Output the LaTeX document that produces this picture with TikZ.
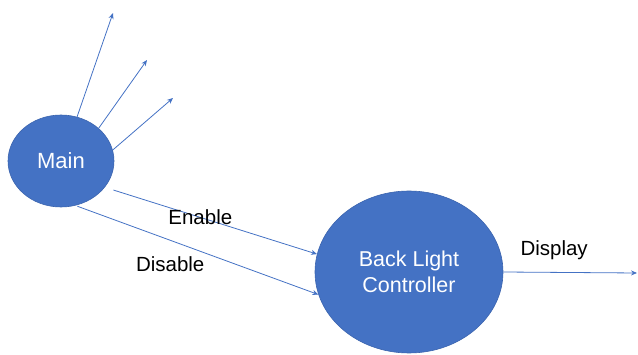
\documentclass[tikz,border=0pt]{standalone}
\usepackage{fontspec}
\setmainfont{Liberation Sans}
\usepackage{xcolor}
\usetikzlibrary{shapes.geometric,arrows.meta}

\definecolor{officeblue}{HTML}{4472C4}
\definecolor{edgeblue}{HTML}{3B64AE}

\begin{document}
\begin{tikzpicture}
	[x=1pt, y=-1pt,
	 bubble/.style={ellipse, fill=officeblue, draw=edgeblue, line width=0.6pt, text=white, align=center, inner sep=0pt},
	 flow/.style={draw=officeblue, line width=0.8pt, -{Stealth[length=6pt,width=5pt]}},
	 lbl/.style={font=\fontsize{20.5}{24}\selectfont, text=black}]

	\useasboundingbox (0,0) rectangle (638,355);

	% processes
	\node[bubble, minimum width=106pt, minimum height=92pt, font=\fontsize{22}{25}\selectfont] (main) at (61,161) {Main};
	\node[bubble, minimum width=188pt, minimum height=162pt, font=\fontsize{21.5}{25.5}\selectfont] (blc) at (409,272) {Back Light\\Controller};

	% free ends
	\coordinate (t1) at (113,13);
	\coordinate (t2) at (147,60);
	\coordinate (t3) at (173,98);
	\coordinate (out) at (637,273);

	% outgoing from main
	\draw[flow] (main.70) -- (t1);
	\draw[flow] (main.41) -- (t2);
	\draw[flow] (main.12) -- (t3);

	% main to controller
	\draw[flow, shorten <=9pt] (main.-31) -- (blc.169) node[lbl, pos=0.45] {Enable};
	\draw[flow, shorten <=2pt] (main.-72) -- (blc.194) node[lbl, pos=0.39, below=13pt] {Disable};

	% controller output
	\draw[flow] (blc.east) -- (out) node[lbl, pos=0.38, above=9pt] {Display};

	\end{tikzpicture}
\end{document}
